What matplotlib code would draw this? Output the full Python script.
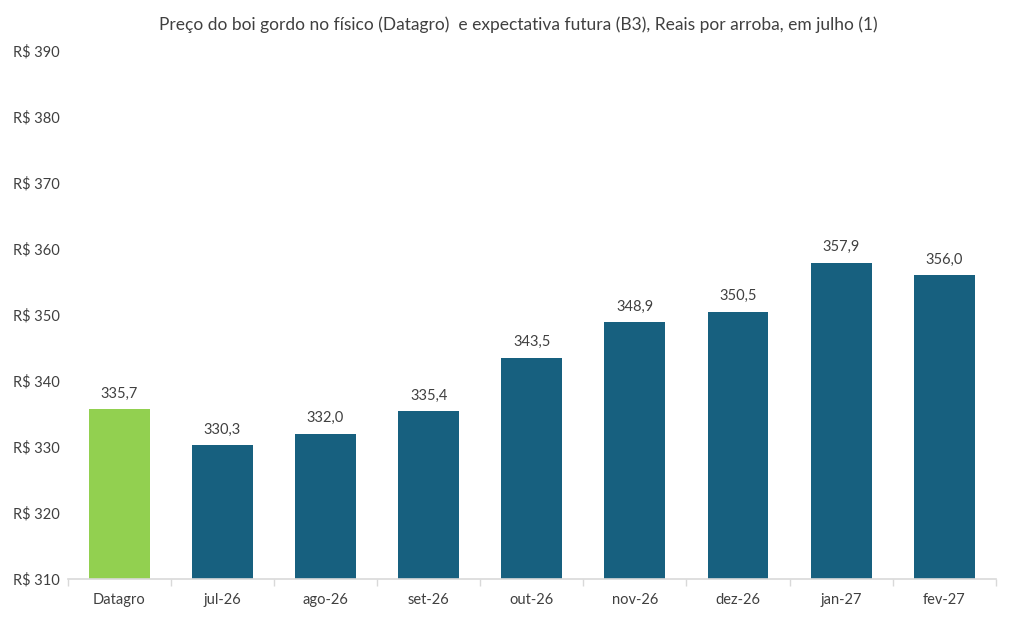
import matplotlib
matplotlib.use("Agg")
import matplotlib.pyplot as plt
from matplotlib.ticker import FixedLocator

categories = ["Datagro", "jul-26", "ago-26", "set-26", "out-26", "nov-26", "dez-26", "jan-27", "fev-27"]
values = [335.7, 330.3, 332.0, 335.4, 343.5, 348.9, 350.5, 357.9, 356.0]
y_ticks = [310, 320, 330, 340, 350, 360, 370, 380, 390]
title = "Preço do boi gordo no físico (Datagro)  e expectativa futura (B3), Reais por arroba, em julho (1)"

plt.rcParams['font.family'] = ['Lato', 'DejaVu Sans']
text_color = "#404040"

fig = plt.figure(figsize=(10.11, 6.29), dpi=100)
ax = fig.add_axes([0.067, 0.0795, 0.918, 0.8395])

colors = ["#92D050"] + ["#17607F"] * (len(categories) - 1)
x = list(range(len(categories)))
bars = ax.bar(x, values, width=0.59, color=colors, bottom=0)
for xi, v in zip(x, values):
    ax.text(xi, v + 1.3, f"{v:.1f}".replace(".", ","), ha="center", va="bottom",
            fontsize=10.5, color=text_color)

ax.set_ylim(310, 390)
ax.set_xlim(-0.5, len(categories) - 0.5)
ax.set_yticks(y_ticks)
ax.set_yticklabels([f"R$ {t}" for t in y_ticks])
ax.set_xticks(x)
ax.set_xticklabels(categories)
ax.xaxis.set_minor_locator(FixedLocator([i - 0.5 for i in range(len(categories) + 1)]))
ax.tick_params(axis="x", which="major", length=0, pad=10, labelsize=10.5, labelcolor=text_color)
ax.tick_params(axis="x", which="minor", length=5, color="#D9D9D9", width=1)
ax.tick_params(axis="y", length=0, labelsize=10.5, labelcolor=text_color)
for lbl in ax.get_yticklabels():
    lbl.set_horizontalalignment("left")
ax.yaxis.set_tick_params(pad=39.5)

for s in ["top", "right", "left"]:
    ax.spines[s].set_visible(False)
ax.spines["bottom"].set_color("#D9D9D9")
ax.spines["bottom"].set_linewidth(1.2)

fig.text(518 / 1011, 1 - 25 / 629, title, ha="center", va="center", fontsize=12.5, color=text_color)

fig.savefig("out.png", dpi=100)
